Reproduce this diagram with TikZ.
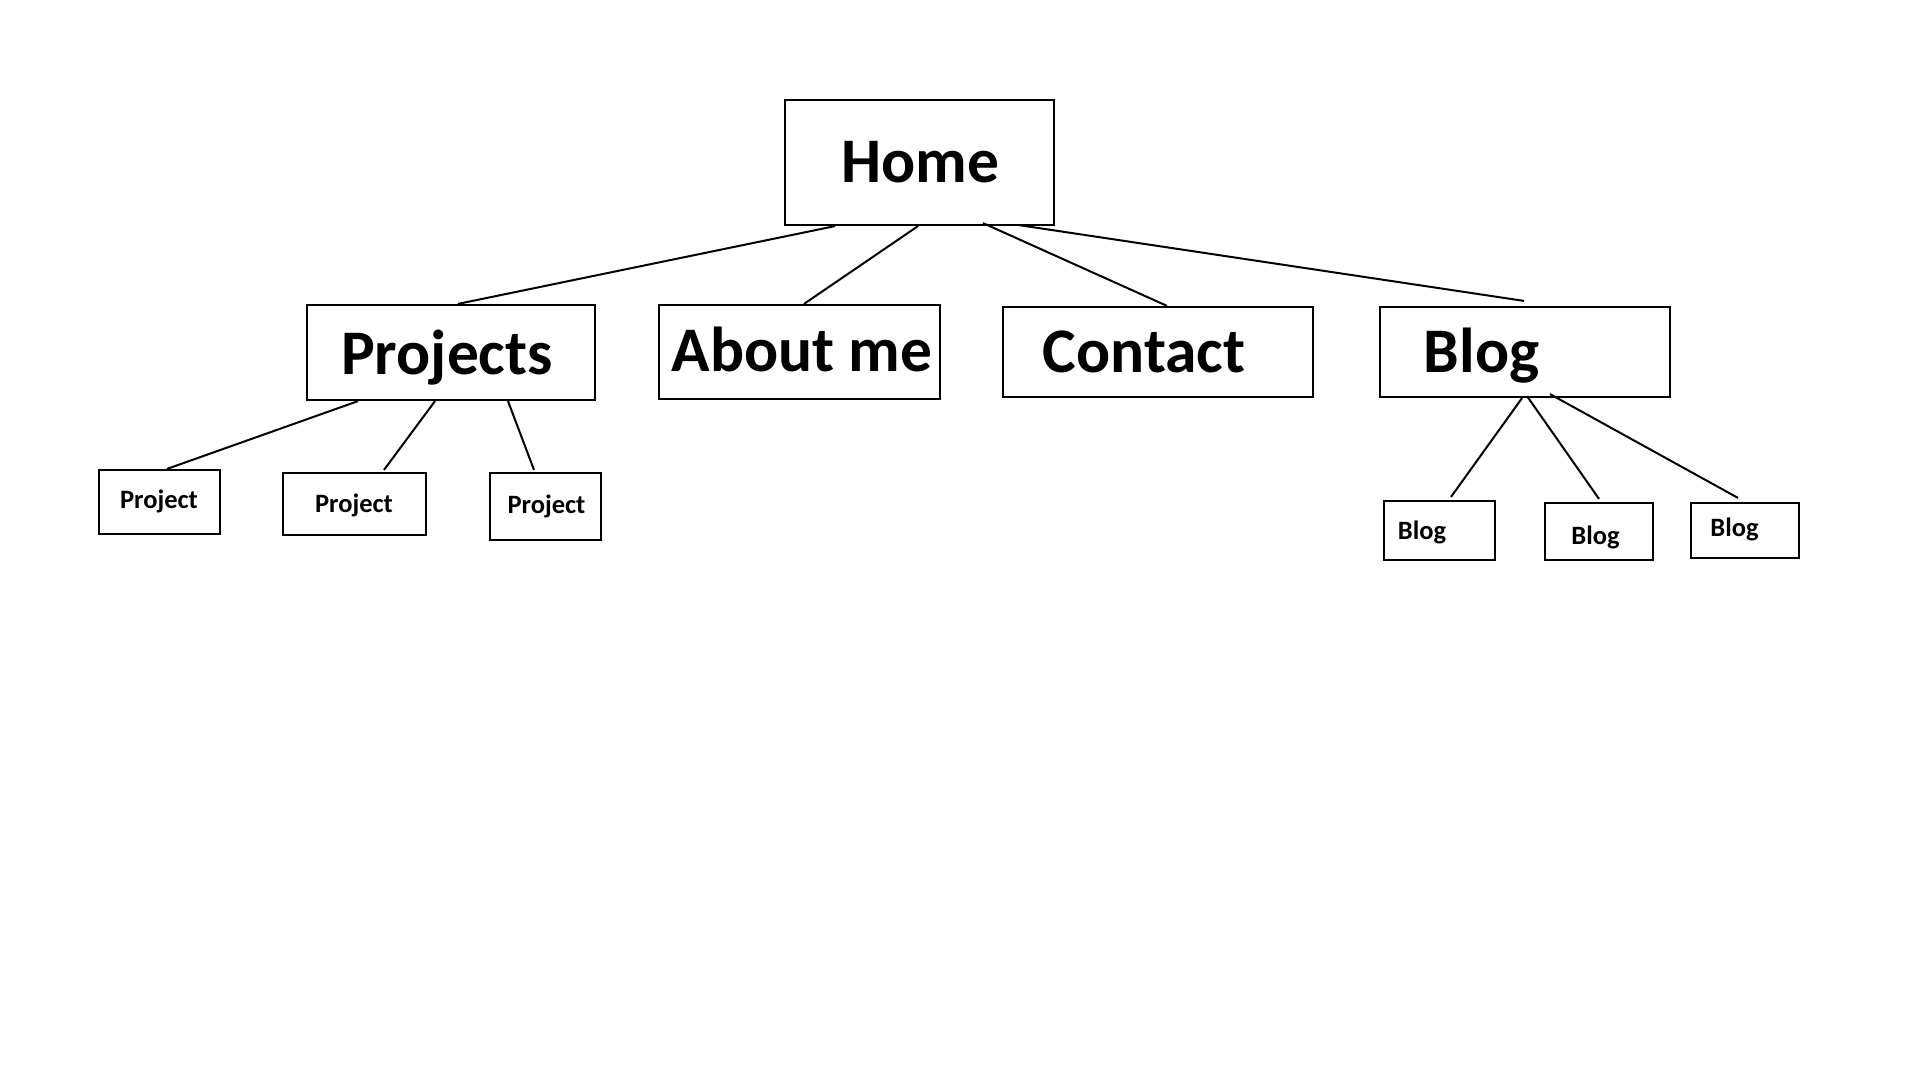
\documentclass[tikz,border=0pt]{standalone}
\usepackage{fontspec}
\setmainfont{Carlito}
\begin{document}
\begin{tikzpicture}[x=1pt,y=-1pt,
  box/.style={draw, line width=2.2pt, rectangle, inner sep=0pt},
  big/.style={font=\fontsize{63.5}{63.5}\selectfont\bfseries, inner sep=0pt, anchor=base},
  small/.style={font=\fontsize{26.5}{26.5}\selectfont\bfseries, inner sep=0pt, anchor=base},
  link/.style={line width=2pt}]
\useasboundingbox[fill=white] (0,0) rectangle (1920,1080);

% boxes
\node[box, minimum width=269pt, minimum height=125pt] (home) at (919.5,162.5) {};
\node[box, minimum width=288pt, minimum height=95pt] (projects) at (451,352.5) {};
\node[box, minimum width=281pt, minimum height=94pt] (about) at (799.5,352) {};
\node[box, minimum width=310pt, minimum height=90pt] (contact) at (1158,352) {};
\node[box, minimum width=290pt, minimum height=90pt] (blog) at (1525,352) {};
\node[box, minimum width=121pt, minimum height=64pt] (p1) at (159.5,502) {};
\node[box, minimum width=143pt, minimum height=62pt] (p2) at (354.5,504) {};
\node[box, minimum width=111pt, minimum height=67pt] (p3) at (545.5,506.5) {};
\node[box, minimum width=111pt, minimum height=59pt] (b1) at (1439.5,530.5) {};
\node[box, minimum width=108pt, minimum height=57pt] (b2) at (1599,531.5) {};
\node[box, minimum width=108pt, minimum height=55pt] (b3) at (1745,530.5) {};

% texts
\node[big] (homet) at (920.5,182) {Home};
\node[big] (projectst) at (447,374.5) {Projects};
\node[big] (aboutt) at (802,371) {About me};
\node[big] (contactt) at (1144,372) {Contact};
\node[big] (blogt) at (1481.5,372) {Blog};
\node[small] (p1t) at (159,508.5) {Project};
\node[small] (p2t) at (354,512) {Project};
\node[small] (p3t) at (546.5,513.5) {Project};
\node[small] (b1t) at (1422,539.5) {Blog};
\node[small] (b2t) at (1595.5,544.5) {Blog};
\node[small] (b3t) at (1734.5,536.5) {Blog};

% connectors
\draw[link] ([xshift=-84.5pt]home.south) -- ([xshift=7pt]projects.north);
\draw[link] ([xshift=-1.5pt]home.south) -- ([xshift=4.5pt]about.north);
\draw[link] ([xshift=63.5pt,yshift=3pt]home.south) -- ([xshift=9pt]contact.north);
\draw[link] ([xshift=99.5pt,yshift=1pt]home.south) -- ([xshift=-1pt,yshift=5pt]blog.north);
\draw[link] ([xshift=-93pt]projects.south) -- ([xshift=7.5pt]p1.north);
\draw[link] ([xshift=-16pt]projects.south) -- ([xshift=29.5pt,yshift=2pt]p2.north);
\draw[link] ([xshift=57pt]projects.south) -- ([xshift=-11.5pt,yshift=2pt]p3.north);
\draw[link] ([xshift=-3pt]blog.south) -- ([xshift=11.5pt,yshift=3pt]b1.north);
\draw[link] ([xshift=2pt,yshift=2pt]blog.south) -- ([yshift=3pt]b2.north);
\draw[link] ([xshift=25pt,yshift=4pt]blog.south) -- ([xshift=-7pt,yshift=4pt]b3.north);
\end{tikzpicture}
\end{document}
